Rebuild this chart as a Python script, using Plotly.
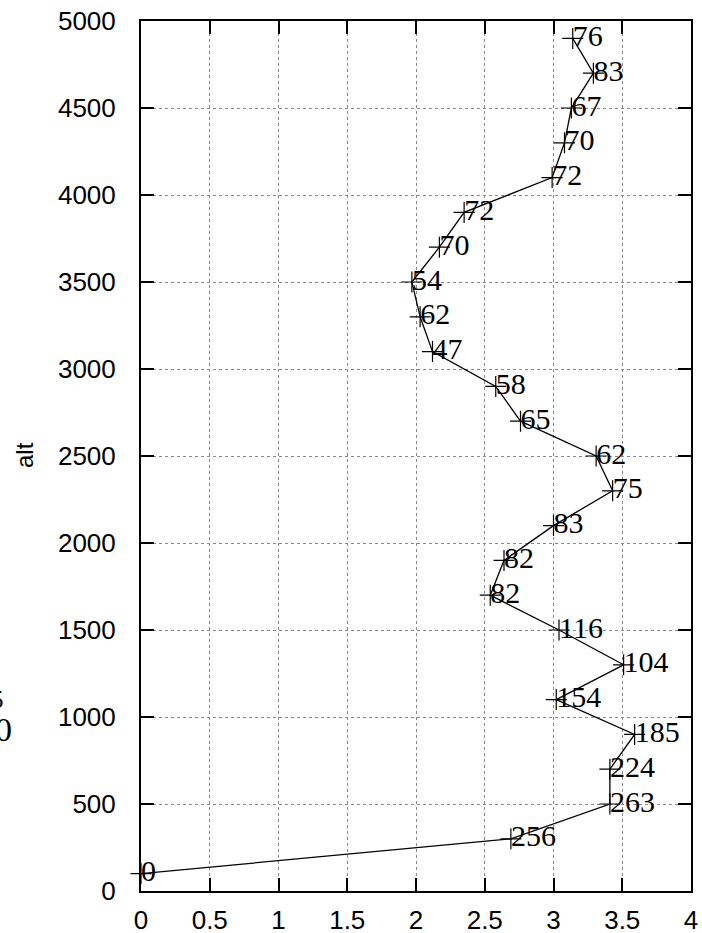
import plotly.graph_objects as go

# data
x_vals = [0.0, 2.69, 3.41, 3.41, 3.59, 3.02, 3.51, 3.04, 2.54, 2.64, 3.0, 3.43, 3.31,
          2.76, 2.58, 2.12, 2.03, 1.97, 2.17, 2.35, 2.99, 3.08, 3.13, 3.29, 3.14]
alt_vals = [100, 300, 500, 700, 900, 1100, 1300, 1500, 1700, 1900, 2100, 2300, 2500,
            2700, 2900, 3100, 3300, 3500, 3700, 3900, 4100, 4300, 4500, 4700, 4900]
point_labels = ["0", "256", "263", "224", "185", "154", "104", "116", "82", "82", "83", "75", "62",
                "65", "58", "47", "62", "54", "70", "72", "72", "70", "67", "83", "76"]

x_ticks = [0, 0.5, 1, 1.5, 2, 2.5, 3, 3.5, 4]
x_tick_text = ["0", "0.5", "1", "1.5", "2", "2.5", "3", "3.5", "4"]
y_ticks = [0, 500, 1000, 1500, 2000, 2500, 3000, 3500, 4000, 4500, 5000]

W, H = 702, 933
L, R, T, B = 141, 11, 21, 42

fig = go.Figure()
fig.add_trace(go.Scatter(
    x=x_vals, y=alt_vals, mode="lines+markers",
    line=dict(color="black", width=1.3),
    marker=dict(symbol="cross-thin", size=15, line=dict(color="black", width=1.2), color="black"),
    showlegend=False, hoverinfo="skip", cliponaxis=False,
))
fig.add_trace(go.Scatter(
    x=x_vals, y=alt_vals, mode="text", text=point_labels,
    textposition="middle right",
    marker=dict(size=0),
    textfont=dict(family="Liberation Serif", size=30, color="black"),
    showlegend=False, hoverinfo="skip", cliponaxis=False,
))

axis_common = dict(
    showline=True, linecolor="black", linewidth=2, mirror="ticks",
    ticks="inside", ticklen=13, tickwidth=2, tickcolor="black",
    showgrid=True, gridcolor="#8a8a8a", gridwidth=1, griddash="dot",
    zeroline=False, automargin=False,
    tickfont=dict(family="Liberation Sans", size=26, color="black"),
)

fig.update_xaxes(range=[0, 4], tickvals=x_ticks, ticktext=x_tick_text,
                 ticklabelstandoff=5, **axis_common)
fig.update_yaxes(range=[0, 5000], tickvals=y_ticks, ticklabelstandoff=18, **axis_common)

plot_w = W - L - R
plot_h = H - T - B
fig.add_annotation(text="alt", textangle=-90, showarrow=False,
                   xref="paper", yref="paper",
                   x=(24 - L) / plot_w, y=(H - B - 455) / plot_h,
                   xanchor="center", yanchor="middle",
                   font=dict(family="Liberation Sans", size=24, color="black"))
# clipped fragments at the far left edge (cut off in the reference too)
fig.add_annotation(text="5", showarrow=False, xref="paper", yref="paper",
                   x=(6 - L) / plot_w, y=(H - B - 699) / plot_h,
                   xanchor="right", yanchor="middle",
                   font=dict(family="Liberation Serif", size=25, color="black"))
fig.add_annotation(text="0", showarrow=False, xref="paper", yref="paper",
                   x=(14 - L) / plot_w, y=(H - B - 729) / plot_h,
                   xanchor="right", yanchor="middle",
                   font=dict(family="Liberation Serif", size=34, color="black"))

fig.update_layout(
    width=W, height=H,
    margin=dict(l=L, r=R, t=T, b=B),
    paper_bgcolor="white", plot_bgcolor="white",
    showlegend=False,
)

fig.write_html("out.html", config={"displayModeBar": False},
               post_script="document.body.style.margin='0';document.body.style.overflow='hidden';")
